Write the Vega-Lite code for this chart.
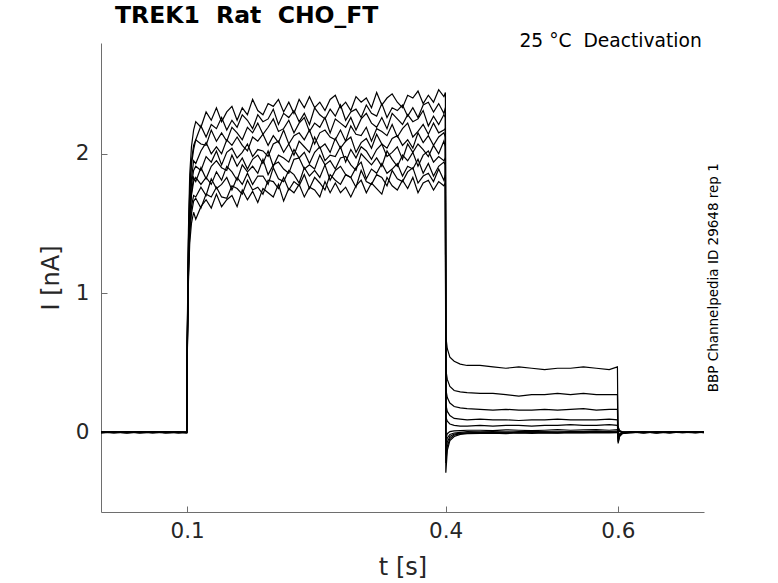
{
  "$schema": "https://vega.github.io/schema/vega-lite/v6.json",
  "width": 603,
  "height": 469,
  "autosize": "none",
  "padding": {"left": 101, "top": 43, "right": 74, "bottom": 71},
  "background": "white",
  "title": {
    "text": "TREK1\u00a0\u00a0Rat\u00a0\u00a0CHO_FT",
    "anchor": "start",
    "frame": "group",
    "dx": 14,
    "offset": 4,
    "fontSize": 23.5,
    "fontWeight": "bold",
    "font": "DejaVu Sans",
    "color": "black"
  },
  "config": {
    "view": {"stroke": null},
    "font": "DejaVu Sans",
    "axis": {
      "grid": false,
      "domainColor": "#6e6e6e",
      "tickColor": "#6e6e6e",
      "labelColor": "#262626",
      "titleColor": "#262626",
      "labelFontSize": 21.5,
      "titleFontSize": 24,
      "titleFontWeight": "normal",
      "tickSize": -6,
      "labelFlush": false,
      "labelOverlap": false
    }
  },
  "datasets": {
    "traces": [
      {"s":1,"t":0,"i":0.002},{"s":1,"t":0.015,"i":-0.003},{"s":1,"t":0.03,"i":0.004},{"s":1,"t":0.045,"i":-0.001},{"s":1,"t":0.06,"i":0.003},{"s":1,"t":0.075,"i":-0.004},{"s":1,"t":0.09,"i":0.002},{"s":1,"t":0.0995,"i":0},
      {"s":1,"t":0.1002,"i":0.75},{"s":1,"t":0.1015,"i":1.45},{"s":1,"t":0.103,"i":1.85},{"s":1,"t":0.105,"i":2.05},{"s":1,"t":0.1075,"i":2.17},
      {"s":1,"t":0.110,"i":2.23},{"s":1,"t":0.116,"i":2.19},{"s":1,"t":0.122,"i":2.30},{"s":1,"t":0.128,"i":2.24},{"s":1,"t":0.134,"i":2.33},{"s":1,"t":0.140,"i":2.23},{"s":1,"t":0.146,"i":2.30},{"s":1,"t":0.152,"i":2.34},{"s":1,"t":0.158,"i":2.24},{"s":1,"t":0.164,"i":2.33},
      {"s":1,"t":0.170,"i":2.28},{"s":1,"t":0.176,"i":2.39},{"s":1,"t":0.182,"i":2.31},{"s":1,"t":0.188,"i":2.28},{"s":1,"t":0.194,"i":2.36},{"s":1,"t":0.200,"i":2.34},{"s":1,"t":0.206,"i":2.39},{"s":1,"t":0.212,"i":2.30},{"s":1,"t":0.218,"i":2.37},{"s":1,"t":0.224,"i":2.29},
      {"s":1,"t":0.230,"i":2.39},{"s":1,"t":0.236,"i":2.33},{"s":1,"t":0.242,"i":2.41},{"s":1,"t":0.248,"i":2.33},{"s":1,"t":0.254,"i":2.37},{"s":1,"t":0.260,"i":2.31},{"s":1,"t":0.266,"i":2.39},{"s":1,"t":0.272,"i":2.42},{"s":1,"t":0.278,"i":2.33},{"s":1,"t":0.284,"i":2.37},
      {"s":1,"t":0.290,"i":2.31},{"s":1,"t":0.296,"i":2.41},{"s":1,"t":0.302,"i":2.37},{"s":1,"t":0.308,"i":2.40},{"s":1,"t":0.314,"i":2.33},{"s":1,"t":0.320,"i":2.44},{"s":1,"t":0.326,"i":2.35},{"s":1,"t":0.332,"i":2.40},{"s":1,"t":0.338,"i":2.43},{"s":1,"t":0.344,"i":2.37},
      {"s":1,"t":0.350,"i":2.33},{"s":1,"t":0.356,"i":2.42},{"s":1,"t":0.362,"i":2.40},{"s":1,"t":0.368,"i":2.45},{"s":1,"t":0.374,"i":2.36},{"s":1,"t":0.380,"i":2.42},{"s":1,"t":0.386,"i":2.37},{"s":1,"t":0.392,"i":2.46},{"s":1,"t":0.398,"i":2.41},{"s":1,"t":0.3998,"i":2.44},
      {"s":1,"t":0.4003,"i":0.69},{"s":1,"t":0.402,"i":0.60},{"s":1,"t":0.405,"i":0.54},{"s":1,"t":0.41,"i":0.51},{"s":1,"t":0.417,"i":0.49},{"s":1,"t":0.425,"i":0.48},{"s":1,"t":0.44,"i":0.48},{"s":1,"t":0.455,"i":0.47},{"s":1,"t":0.47,"i":0.46},{"s":1,"t":0.485,"i":0.47},{"s":1,"t":0.5,"i":0.46},{"s":1,"t":0.515,"i":0.45},{"s":1,"t":0.53,"i":0.46},{"s":1,"t":0.545,"i":0.46},{"s":1,"t":0.56,"i":0.47},{"s":1,"t":0.575,"i":0.46},{"s":1,"t":0.59,"i":0.45},{"s":1,"t":0.5995,"i":0.47},
      {"s":1,"t":0.6003,"i":-0.08},{"s":1,"t":0.602,"i":-0.03},{"s":1,"t":0.605,"i":-0.01},{"s":1,"t":0.615,"i":0},{"s":1,"t":0.63,"i":0.003},{"s":1,"t":0.645,"i":-0.002},{"s":1,"t":0.66,"i":0.004},{"s":1,"t":0.675,"i":-0.003},{"s":1,"t":0.69,"i":0.002},{"s":1,"t":0.7,"i":0},

      {"s":2,"t":0,"i":-0.002},{"s":2,"t":0.015,"i":0.003},{"s":2,"t":0.03,"i":-0.004},{"s":2,"t":0.045,"i":0.002},{"s":2,"t":0.06,"i":0},{"s":2,"t":0.075,"i":0.004},{"s":2,"t":0.09,"i":-0.003},{"s":2,"t":0.0995,"i":0.001},
      {"s":2,"t":0.1002,"i":0.70},{"s":2,"t":0.1015,"i":1.38},{"s":2,"t":0.103,"i":1.75},{"s":2,"t":0.105,"i":1.95},{"s":2,"t":0.1075,"i":2.06},
      {"s":2,"t":0.110,"i":2.10},{"s":2,"t":0.116,"i":2.20},{"s":2,"t":0.122,"i":2.12},{"s":2,"t":0.128,"i":2.21},{"s":2,"t":0.134,"i":2.18},{"s":2,"t":0.140,"i":2.26},{"s":2,"t":0.146,"i":2.17},{"s":2,"t":0.152,"i":2.24},{"s":2,"t":0.158,"i":2.19},{"s":2,"t":0.164,"i":2.28},
      {"s":2,"t":0.170,"i":2.24},{"s":2,"t":0.176,"i":2.18},{"s":2,"t":0.182,"i":2.28},{"s":2,"t":0.188,"i":2.23},{"s":2,"t":0.194,"i":2.25},{"s":2,"t":0.200,"i":2.32},{"s":2,"t":0.206,"i":2.21},{"s":2,"t":0.212,"i":2.29},{"s":2,"t":0.218,"i":2.26},{"s":2,"t":0.224,"i":2.31},
      {"s":2,"t":0.230,"i":2.23},{"s":2,"t":0.236,"i":2.29},{"s":2,"t":0.242,"i":2.21},{"s":2,"t":0.248,"i":2.33},{"s":2,"t":0.254,"i":2.28},{"s":2,"t":0.260,"i":2.25},{"s":2,"t":0.266,"i":2.32},{"s":2,"t":0.272,"i":2.27},{"s":2,"t":0.278,"i":2.35},{"s":2,"t":0.284,"i":2.24},
      {"s":2,"t":0.290,"i":2.30},{"s":2,"t":0.296,"i":2.32},{"s":2,"t":0.302,"i":2.26},{"s":2,"t":0.308,"i":2.35},{"s":2,"t":0.314,"i":2.29},{"s":2,"t":0.320,"i":2.27},{"s":2,"t":0.326,"i":2.36},{"s":2,"t":0.332,"i":2.26},{"s":2,"t":0.338,"i":2.33},{"s":2,"t":0.344,"i":2.31},
      {"s":2,"t":0.350,"i":2.35},{"s":2,"t":0.356,"i":2.27},{"s":2,"t":0.362,"i":2.33},{"s":2,"t":0.368,"i":2.26},{"s":2,"t":0.374,"i":2.35},{"s":2,"t":0.380,"i":2.37},{"s":2,"t":0.386,"i":2.30},{"s":2,"t":0.392,"i":2.36},{"s":2,"t":0.398,"i":2.29},{"s":2,"t":0.3998,"i":2.33},
      {"s":2,"t":0.4003,"i":0.45},{"s":2,"t":0.402,"i":0.38},{"s":2,"t":0.405,"i":0.33},{"s":2,"t":0.41,"i":0.30},{"s":2,"t":0.417,"i":0.29},{"s":2,"t":0.425,"i":0.285},{"s":2,"t":0.44,"i":0.28},{"s":2,"t":0.455,"i":0.28},{"s":2,"t":0.47,"i":0.27},{"s":2,"t":0.485,"i":0.26},{"s":2,"t":0.5,"i":0.27},{"s":2,"t":0.515,"i":0.27},{"s":2,"t":0.53,"i":0.28},{"s":2,"t":0.545,"i":0.27},{"s":2,"t":0.56,"i":0.28},{"s":2,"t":0.575,"i":0.27},{"s":2,"t":0.59,"i":0.27},{"s":2,"t":0.5995,"i":0.27},
      {"s":2,"t":0.6003,"i":-0.07},{"s":2,"t":0.602,"i":-0.025},{"s":2,"t":0.605,"i":-0.008},{"s":2,"t":0.615,"i":0.002},{"s":2,"t":0.63,"i":-0.003},{"s":2,"t":0.645,"i":0.004},{"s":2,"t":0.66,"i":-0.002},{"s":2,"t":0.675,"i":0.003},{"s":2,"t":0.69,"i":-0.001},{"s":2,"t":0.7,"i":0.002},

      {"s":3,"t":0,"i":0.003},{"s":3,"t":0.015,"i":0},{"s":3,"t":0.03,"i":-0.002},{"s":3,"t":0.045,"i":0.004},{"s":3,"t":0.06,"i":-0.003},{"s":3,"t":0.075,"i":0.001},{"s":3,"t":0.09,"i":0.003},{"s":3,"t":0.0995,"i":-0.002},
      {"s":3,"t":0.1002,"i":0.68},{"s":3,"t":0.1015,"i":1.35},{"s":3,"t":0.103,"i":1.72},{"s":3,"t":0.105,"i":1.92},{"s":3,"t":0.1075,"i":2.03},
      {"s":3,"t":0.110,"i":2.10},{"s":3,"t":0.116,"i":2.07},{"s":3,"t":0.122,"i":2.06},{"s":3,"t":0.128,"i":2.17},{"s":3,"t":0.134,"i":2.09},{"s":3,"t":0.140,"i":2.15},{"s":3,"t":0.146,"i":2.09},{"s":3,"t":0.152,"i":2.19},{"s":3,"t":0.158,"i":2.15},{"s":3,"t":0.164,"i":2.10},
      {"s":3,"t":0.170,"i":2.19},{"s":3,"t":0.176,"i":2.15},{"s":3,"t":0.182,"i":2.22},{"s":3,"t":0.188,"i":2.14},{"s":3,"t":0.194,"i":2.19},{"s":3,"t":0.200,"i":2.25},{"s":3,"t":0.206,"i":2.16},{"s":3,"t":0.212,"i":2.18},{"s":3,"t":0.218,"i":2.24},{"s":3,"t":0.224,"i":2.15},
      {"s":3,"t":0.230,"i":2.22},{"s":3,"t":0.236,"i":2.26},{"s":3,"t":0.242,"i":2.16},{"s":3,"t":0.248,"i":2.22},{"s":3,"t":0.254,"i":2.19},{"s":3,"t":0.260,"i":2.26},{"s":3,"t":0.266,"i":2.15},{"s":3,"t":0.272,"i":2.25},{"s":3,"t":0.278,"i":2.22},{"s":3,"t":0.284,"i":2.19},
      {"s":3,"t":0.290,"i":2.26},{"s":3,"t":0.296,"i":2.17},{"s":3,"t":0.302,"i":2.25},{"s":3,"t":0.308,"i":2.29},{"s":3,"t":0.314,"i":2.22},{"s":3,"t":0.320,"i":2.19},{"s":3,"t":0.326,"i":2.26},{"s":3,"t":0.332,"i":2.18},{"s":3,"t":0.338,"i":2.29},{"s":3,"t":0.344,"i":2.25},
      {"s":3,"t":0.350,"i":2.21},{"s":3,"t":0.356,"i":2.28},{"s":3,"t":0.362,"i":2.23},{"s":3,"t":0.368,"i":2.25},{"s":3,"t":0.374,"i":2.31},{"s":3,"t":0.380,"i":2.20},{"s":3,"t":0.386,"i":2.27},{"s":3,"t":0.392,"i":2.21},{"s":3,"t":0.398,"i":2.28},{"s":3,"t":0.3998,"i":2.26},
      {"s":3,"t":0.4003,"i":0.31},{"s":3,"t":0.402,"i":0.25},{"s":3,"t":0.405,"i":0.21},{"s":3,"t":0.41,"i":0.185},{"s":3,"t":0.417,"i":0.175},{"s":3,"t":0.425,"i":0.17},{"s":3,"t":0.44,"i":0.165},{"s":3,"t":0.455,"i":0.16},{"s":3,"t":0.47,"i":0.165},{"s":3,"t":0.485,"i":0.16},{"s":3,"t":0.5,"i":0.16},{"s":3,"t":0.515,"i":0.165},{"s":3,"t":0.53,"i":0.16},{"s":3,"t":0.545,"i":0.165},{"s":3,"t":0.56,"i":0.17},{"s":3,"t":0.575,"i":0.16},{"s":3,"t":0.59,"i":0.165},{"s":3,"t":0.5995,"i":0.165},
      {"s":3,"t":0.6003,"i":-0.06},{"s":3,"t":0.602,"i":-0.02},{"s":3,"t":0.605,"i":-0.006},{"s":3,"t":0.615,"i":-0.002},{"s":3,"t":0.63,"i":0.003},{"s":3,"t":0.645,"i":-0.004},{"s":3,"t":0.66,"i":0.002},{"s":3,"t":0.675,"i":0},{"s":3,"t":0.69,"i":0.004},{"s":3,"t":0.7,"i":-0.002},

      {"s":4,"t":0,"i":-0.004},{"s":4,"t":0.015,"i":0.002},{"s":4,"t":0.03,"i":0.001},{"s":4,"t":0.045,"i":-0.003},{"s":4,"t":0.06,"i":0.004},{"s":4,"t":0.075,"i":-0.002},{"s":4,"t":0.09,"i":0},{"s":4,"t":0.0995,"i":0.003},
      {"s":4,"t":0.1002,"i":0.65},{"s":4,"t":0.1015,"i":1.30},{"s":4,"t":0.103,"i":1.65},{"s":4,"t":0.105,"i":1.82},{"s":4,"t":0.1075,"i":1.95},
      {"s":4,"t":0.110,"i":1.93},{"s":4,"t":0.116,"i":2.02},{"s":4,"t":0.122,"i":2.08},{"s":4,"t":0.128,"i":2.00},{"s":4,"t":0.134,"i":2.05},{"s":4,"t":0.140,"i":2.00},{"s":4,"t":0.146,"i":2.10},{"s":4,"t":0.152,"i":2.06},{"s":4,"t":0.158,"i":2.12},{"s":4,"t":0.164,"i":2.06},
      {"s":4,"t":0.170,"i":2.02},{"s":4,"t":0.176,"i":2.12},{"s":4,"t":0.182,"i":2.09},{"s":4,"t":0.188,"i":2.14},{"s":4,"t":0.194,"i":2.06},{"s":4,"t":0.200,"i":2.13},{"s":4,"t":0.206,"i":2.08},{"s":4,"t":0.212,"i":2.17},{"s":4,"t":0.218,"i":2.07},{"s":4,"t":0.224,"i":2.13},
      {"s":4,"t":0.230,"i":2.15},{"s":4,"t":0.236,"i":2.10},{"s":4,"t":0.242,"i":2.17},{"s":4,"t":0.248,"i":2.07},{"s":4,"t":0.254,"i":2.15},{"s":4,"t":0.260,"i":2.17},{"s":4,"t":0.266,"i":2.12},{"s":4,"t":0.272,"i":2.10},{"s":4,"t":0.278,"i":2.17},{"s":4,"t":0.284,"i":2.09},
      {"s":4,"t":0.290,"i":2.20},{"s":4,"t":0.296,"i":2.14},{"s":4,"t":0.302,"i":2.13},{"s":4,"t":0.308,"i":2.19},{"s":4,"t":0.314,"i":2.09},{"s":4,"t":0.320,"i":2.18},{"s":4,"t":0.326,"i":2.16},{"s":4,"t":0.332,"i":2.13},{"s":4,"t":0.338,"i":2.21},{"s":4,"t":0.344,"i":2.12},
      {"s":4,"t":0.350,"i":2.18},{"s":4,"t":0.356,"i":2.22},{"s":4,"t":0.362,"i":2.12},{"s":4,"t":0.368,"i":2.16},{"s":4,"t":0.374,"i":2.21},{"s":4,"t":0.380,"i":2.14},{"s":4,"t":0.386,"i":2.22},{"s":4,"t":0.392,"i":2.15},{"s":4,"t":0.398,"i":2.17},{"s":4,"t":0.3998,"i":2.18},
      {"s":4,"t":0.4003,"i":0.20},{"s":4,"t":0.402,"i":0.15},{"s":4,"t":0.405,"i":0.12},{"s":4,"t":0.41,"i":0.10},{"s":4,"t":0.417,"i":0.095},{"s":4,"t":0.425,"i":0.09},{"s":4,"t":0.44,"i":0.095},{"s":4,"t":0.455,"i":0.09},{"s":4,"t":0.47,"i":0.09},{"s":4,"t":0.485,"i":0.085},{"s":4,"t":0.5,"i":0.09},{"s":4,"t":0.515,"i":0.09},{"s":4,"t":0.53,"i":0.095},{"s":4,"t":0.545,"i":0.09},{"s":4,"t":0.56,"i":0.09},{"s":4,"t":0.575,"i":0.09},{"s":4,"t":0.59,"i":0.095},{"s":4,"t":0.5995,"i":0.09},
      {"s":4,"t":0.6003,"i":-0.05},{"s":4,"t":0.602,"i":-0.018},{"s":4,"t":0.605,"i":-0.005},{"s":4,"t":0.615,"i":0.003},{"s":4,"t":0.63,"i":-0.002},{"s":4,"t":0.645,"i":0.002},{"s":4,"t":0.66,"i":-0.004},{"s":4,"t":0.675,"i":0.003},{"s":4,"t":0.69,"i":0},{"s":4,"t":0.7,"i":0.003},

      {"s":5,"t":0,"i":0.001},{"s":5,"t":0.015,"i":-0.004},{"s":5,"t":0.03,"i":0.003},{"s":5,"t":0.045,"i":0},{"s":5,"t":0.06,"i":-0.002},{"s":5,"t":0.075,"i":0.004},{"s":5,"t":0.09,"i":-0.004},{"s":5,"t":0.0995,"i":0.002},
      {"s":5,"t":0.1002,"i":0.63},{"s":5,"t":0.1015,"i":1.27},{"s":5,"t":0.103,"i":1.60},{"s":5,"t":0.105,"i":1.78},{"s":5,"t":0.1075,"i":1.88},
      {"s":5,"t":0.110,"i":1.91},{"s":5,"t":0.116,"i":1.88},{"s":5,"t":0.122,"i":1.98},{"s":5,"t":0.128,"i":1.94},{"s":5,"t":0.134,"i":2.02},{"s":5,"t":0.140,"i":1.92},{"s":5,"t":0.146,"i":2.01},{"s":5,"t":0.152,"i":2.04},{"s":5,"t":0.158,"i":1.97},{"s":5,"t":0.164,"i":2.01},
      {"s":5,"t":0.170,"i":2.07},{"s":5,"t":0.176,"i":1.98},{"s":5,"t":0.182,"i":2.03},{"s":5,"t":0.188,"i":2.02},{"s":5,"t":0.194,"i":1.98},{"s":5,"t":0.200,"i":2.07},{"s":5,"t":0.206,"i":2.09},{"s":5,"t":0.212,"i":2.01},{"s":5,"t":0.218,"i":2.07},{"s":5,"t":0.224,"i":1.99},
      {"s":5,"t":0.230,"i":2.09},{"s":5,"t":0.236,"i":2.05},{"s":5,"t":0.242,"i":2.01},{"s":5,"t":0.248,"i":2.12},{"s":5,"t":0.254,"i":2.04},{"s":5,"t":0.260,"i":2.07},{"s":5,"t":0.266,"i":2.01},{"s":5,"t":0.272,"i":2.11},{"s":5,"t":0.278,"i":2.04},{"s":5,"t":0.284,"i":2.09},
      {"s":5,"t":0.290,"i":2.12},{"s":5,"t":0.296,"i":2.01},{"s":5,"t":0.302,"i":2.08},{"s":5,"t":0.308,"i":2.11},{"s":5,"t":0.314,"i":2.04},{"s":5,"t":0.320,"i":2.14},{"s":5,"t":0.326,"i":2.07},{"s":5,"t":0.332,"i":2.04},{"s":5,"t":0.338,"i":2.11},{"s":5,"t":0.344,"i":2.13},
      {"s":5,"t":0.350,"i":2.06},{"s":5,"t":0.356,"i":2.10},{"s":5,"t":0.362,"i":2.04},{"s":5,"t":0.368,"i":2.15},{"s":5,"t":0.374,"i":2.08},{"s":5,"t":0.380,"i":2.13},{"s":5,"t":0.386,"i":2.06},{"s":5,"t":0.392,"i":2.12},{"s":5,"t":0.398,"i":2.15},{"s":5,"t":0.3998,"i":2.12},
      {"s":5,"t":0.4003,"i":0.11},{"s":5,"t":0.402,"i":0.08},{"s":5,"t":0.405,"i":0.06},{"s":5,"t":0.41,"i":0.05},{"s":5,"t":0.417,"i":0.045},{"s":5,"t":0.425,"i":0.045},{"s":5,"t":0.44,"i":0.05},{"s":5,"t":0.455,"i":0.045},{"s":5,"t":0.47,"i":0.05},{"s":5,"t":0.485,"i":0.05},{"s":5,"t":0.5,"i":0.045},{"s":5,"t":0.515,"i":0.05},{"s":5,"t":0.53,"i":0.05},{"s":5,"t":0.545,"i":0.055},{"s":5,"t":0.56,"i":0.05},{"s":5,"t":0.575,"i":0.05},{"s":5,"t":0.59,"i":0.055},{"s":5,"t":0.5995,"i":0.05},
      {"s":5,"t":0.6003,"i":-0.04},{"s":5,"t":0.602,"i":-0.015},{"s":5,"t":0.605,"i":-0.004},{"s":5,"t":0.615,"i":0},{"s":5,"t":0.63,"i":0.004},{"s":5,"t":0.645,"i":-0.003},{"s":5,"t":0.66,"i":0.001},{"s":5,"t":0.675,"i":-0.002},{"s":5,"t":0.69,"i":0.003},{"s":5,"t":0.7,"i":-0.001},

      {"s":6,"t":0,"i":0},{"s":6,"t":0.015,"i":0.004},{"s":6,"t":0.03,"i":-0.003},{"s":6,"t":0.045,"i":0.003},{"s":6,"t":0.06,"i":-0.004},{"s":6,"t":0.075,"i":0.002},{"s":6,"t":0.09,"i":0.001},{"s":6,"t":0.0995,"i":-0.003},
      {"s":6,"t":0.1002,"i":0.60},{"s":6,"t":0.1015,"i":1.22},{"s":6,"t":0.103,"i":1.55},{"s":6,"t":0.105,"i":1.72},{"s":6,"t":0.1075,"i":1.83},
      {"s":6,"t":0.110,"i":1.80},{"s":6,"t":0.116,"i":1.90},{"s":6,"t":0.122,"i":1.82},{"s":6,"t":0.128,"i":1.91},{"s":6,"t":0.134,"i":1.95},{"s":6,"t":0.140,"i":1.90},{"s":6,"t":0.146,"i":1.88},{"s":6,"t":0.152,"i":1.99},{"s":6,"t":0.158,"i":1.91},{"s":6,"t":0.164,"i":1.97},
      {"s":6,"t":0.170,"i":1.89},{"s":6,"t":0.176,"i":1.96},{"s":6,"t":0.182,"i":1.99},{"s":6,"t":0.188,"i":1.93},{"s":6,"t":0.194,"i":2.02},{"s":6,"t":0.200,"i":1.91},{"s":6,"t":0.206,"i":1.99},{"s":6,"t":0.212,"i":1.97},{"s":6,"t":0.218,"i":1.94},{"s":6,"t":0.224,"i":2.03},
      {"s":6,"t":0.230,"i":1.97},{"s":6,"t":0.236,"i":2.01},{"s":6,"t":0.242,"i":1.93},{"s":6,"t":0.248,"i":2.01},{"s":6,"t":0.254,"i":2.05},{"s":6,"t":0.260,"i":1.95},{"s":6,"t":0.266,"i":1.99},{"s":6,"t":0.272,"i":1.98},{"s":6,"t":0.278,"i":2.05},{"s":6,"t":0.284,"i":1.94},
      {"s":6,"t":0.290,"i":2.03},{"s":6,"t":0.296,"i":1.97},{"s":6,"t":0.302,"i":2.05},{"s":6,"t":0.308,"i":2.02},{"s":6,"t":0.314,"i":1.96},{"s":6,"t":0.320,"i":2.03},{"s":6,"t":0.326,"i":2.07},{"s":6,"t":0.332,"i":1.98},{"s":6,"t":0.338,"i":2.01},{"s":6,"t":0.344,"i":2.05},
      {"s":6,"t":0.350,"i":1.96},{"s":6,"t":0.356,"i":2.07},{"s":6,"t":0.362,"i":2.01},{"s":6,"t":0.368,"i":2.07},{"s":6,"t":0.374,"i":2.03},{"s":6,"t":0.380,"i":1.98},{"s":6,"t":0.386,"i":2.06},{"s":6,"t":0.392,"i":2.00},{"s":6,"t":0.398,"i":2.09},{"s":6,"t":0.3998,"i":2.05},
      {"s":6,"t":0.4003,"i":-0.05},{"s":6,"t":0.402,"i":-0.01},{"s":6,"t":0.405,"i":0.005},{"s":6,"t":0.41,"i":0.01},{"s":6,"t":0.417,"i":0.012},{"s":6,"t":0.425,"i":0.015},{"s":6,"t":0.44,"i":0.015},{"s":6,"t":0.455,"i":0.012},{"s":6,"t":0.47,"i":0.018},{"s":6,"t":0.485,"i":0.015},{"s":6,"t":0.5,"i":0.012},{"s":6,"t":0.515,"i":0.015},{"s":6,"t":0.53,"i":0.02},{"s":6,"t":0.545,"i":0.015},{"s":6,"t":0.56,"i":0.018},{"s":6,"t":0.575,"i":0.02},{"s":6,"t":0.59,"i":0.015},{"s":6,"t":0.5995,"i":0.02},
      {"s":6,"t":0.6003,"i":-0.03},{"s":6,"t":0.602,"i":-0.01},{"s":6,"t":0.605,"i":-0.003},{"s":6,"t":0.615,"i":0.002},{"s":6,"t":0.63,"i":-0.004},{"s":6,"t":0.645,"i":0.003},{"s":6,"t":0.66,"i":0},{"s":6,"t":0.675,"i":0.004},{"s":6,"t":0.69,"i":-0.003},{"s":6,"t":0.7,"i":0.002},

      {"s":7,"t":0,"i":-0.003},{"s":7,"t":0.015,"i":0.001},{"s":7,"t":0.03,"i":0.004},{"s":7,"t":0.045,"i":-0.004},{"s":7,"t":0.06,"i":0.002},{"s":7,"t":0.075,"i":0},{"s":7,"t":0.09,"i":0.004},{"s":7,"t":0.0995,"i":-0.001},
      {"s":7,"t":0.1002,"i":0.62},{"s":7,"t":0.1015,"i":1.20},{"s":7,"t":0.103,"i":1.52},{"s":7,"t":0.105,"i":1.70},{"s":7,"t":0.1075,"i":1.80},
      {"s":7,"t":0.110,"i":1.83},{"s":7,"t":0.116,"i":1.78},{"s":7,"t":0.122,"i":1.83},{"s":7,"t":0.128,"i":1.78},{"s":7,"t":0.134,"i":1.87},{"s":7,"t":0.140,"i":1.81},{"s":7,"t":0.146,"i":1.91},{"s":7,"t":0.152,"i":1.87},{"s":7,"t":0.158,"i":1.81},{"s":7,"t":0.164,"i":1.92},
      {"s":7,"t":0.170,"i":1.87},{"s":7,"t":0.176,"i":1.91},{"s":7,"t":0.182,"i":1.86},{"s":7,"t":0.188,"i":1.96},{"s":7,"t":0.194,"i":1.85},{"s":7,"t":0.200,"i":1.92},{"s":7,"t":0.206,"i":1.94},{"s":7,"t":0.212,"i":1.89},{"s":7,"t":0.218,"i":1.86},{"s":7,"t":0.224,"i":1.96},
      {"s":7,"t":0.230,"i":1.97},{"s":7,"t":0.236,"i":1.89},{"s":7,"t":0.242,"i":1.92},{"s":7,"t":0.248,"i":1.89},{"s":7,"t":0.254,"i":1.99},{"s":7,"t":0.260,"i":1.92},{"s":7,"t":0.266,"i":1.95},{"s":7,"t":0.272,"i":1.89},{"s":7,"t":0.278,"i":1.97},{"s":7,"t":0.284,"i":1.98},
      {"s":7,"t":0.290,"i":1.92},{"s":7,"t":0.296,"i":1.88},{"s":7,"t":0.302,"i":2.00},{"s":7,"t":0.308,"i":1.96},{"s":7,"t":0.314,"i":1.92},{"s":7,"t":0.320,"i":1.97},{"s":7,"t":0.326,"i":1.91},{"s":7,"t":0.332,"i":2.02},{"s":7,"t":0.338,"i":1.96},{"s":7,"t":0.344,"i":1.91},
      {"s":7,"t":0.350,"i":1.99},{"s":7,"t":0.356,"i":1.95},{"s":7,"t":0.362,"i":2.01},{"s":7,"t":0.368,"i":1.91},{"s":7,"t":0.374,"i":1.99},{"s":7,"t":0.380,"i":2.02},{"s":7,"t":0.386,"i":1.94},{"s":7,"t":0.392,"i":1.98},{"s":7,"t":0.398,"i":1.95},{"s":7,"t":0.3998,"i":1.97},
      {"s":7,"t":0.4003,"i":-0.10},{"s":7,"t":0.402,"i":-0.04},{"s":7,"t":0.405,"i":-0.015},{"s":7,"t":0.41,"i":-0.005},{"s":7,"t":0.417,"i":0},{"s":7,"t":0.425,"i":0.005},{"s":7,"t":0.44,"i":0.003},{"s":7,"t":0.455,"i":0.006},{"s":7,"t":0.47,"i":0.002},{"s":7,"t":0.485,"i":0.005},{"s":7,"t":0.5,"i":0.007},{"s":7,"t":0.515,"i":0.004},{"s":7,"t":0.53,"i":0.003},{"s":7,"t":0.545,"i":0.006},{"s":7,"t":0.56,"i":0.005},{"s":7,"t":0.575,"i":0.008},{"s":7,"t":0.59,"i":0.006},{"s":7,"t":0.5995,"i":0.008},
      {"s":7,"t":0.6003,"i":0.02},{"s":7,"t":0.602,"i":0.005},{"s":7,"t":0.605,"i":0},{"s":7,"t":0.615,"i":-0.003},{"s":7,"t":0.63,"i":0.002},{"s":7,"t":0.645,"i":-0.002},{"s":7,"t":0.66,"i":0.004},{"s":7,"t":0.675,"i":-0.001},{"s":7,"t":0.69,"i":0.002},{"s":7,"t":0.7,"i":0},

      {"s":8,"t":0,"i":0.004},{"s":8,"t":0.015,"i":-0.002},{"s":8,"t":0.03,"i":0},{"s":8,"t":0.045,"i":0.003},{"s":8,"t":0.06,"i":-0.001},{"s":8,"t":0.075,"i":-0.003},{"s":8,"t":0.09,"i":0.002},{"s":8,"t":0.0995,"i":0.004},
      {"s":8,"t":0.1002,"i":0.58},{"s":8,"t":0.1015,"i":1.15},{"s":8,"t":0.103,"i":1.46},{"s":8,"t":0.105,"i":1.62},{"s":8,"t":0.1075,"i":1.70},
      {"s":8,"t":0.110,"i":1.69},{"s":8,"t":0.116,"i":1.76},{"s":8,"t":0.122,"i":1.70},{"s":8,"t":0.128,"i":1.82},{"s":8,"t":0.134,"i":1.75},{"s":8,"t":0.140,"i":1.78},{"s":8,"t":0.146,"i":1.83},{"s":8,"t":0.152,"i":1.74},{"s":8,"t":0.158,"i":1.83},{"s":8,"t":0.164,"i":1.78},
      {"s":8,"t":0.170,"i":1.86},{"s":8,"t":0.176,"i":1.78},{"s":8,"t":0.182,"i":1.84},{"s":8,"t":0.188,"i":1.84},{"s":8,"t":0.194,"i":1.78},{"s":8,"t":0.200,"i":1.90},{"s":8,"t":0.206,"i":1.82},{"s":8,"t":0.212,"i":1.80},{"s":8,"t":0.218,"i":1.88},{"s":8,"t":0.224,"i":1.85},
      {"s":8,"t":0.230,"i":1.79},{"s":8,"t":0.236,"i":1.90},{"s":8,"t":0.242,"i":1.84},{"s":8,"t":0.248,"i":1.88},{"s":8,"t":0.254,"i":1.83},{"s":8,"t":0.260,"i":1.92},{"s":8,"t":0.266,"i":1.81},{"s":8,"t":0.272,"i":1.88},{"s":8,"t":0.278,"i":1.91},{"s":8,"t":0.284,"i":1.85},
      {"s":8,"t":0.290,"i":1.83},{"s":8,"t":0.296,"i":1.90},{"s":8,"t":0.302,"i":1.94},{"s":8,"t":0.308,"i":1.82},{"s":8,"t":0.314,"i":1.89},{"s":8,"t":0.320,"i":1.86},{"s":8,"t":0.326,"i":1.93},{"s":8,"t":0.332,"i":1.86},{"s":8,"t":0.338,"i":1.89},{"s":8,"t":0.344,"i":1.93},
      {"s":8,"t":0.350,"i":1.84},{"s":8,"t":0.356,"i":1.91},{"s":8,"t":0.362,"i":1.89},{"s":8,"t":0.368,"i":1.96},{"s":8,"t":0.374,"i":1.86},{"s":8,"t":0.380,"i":1.93},{"s":8,"t":0.386,"i":1.84},{"s":8,"t":0.392,"i":1.91},{"s":8,"t":0.398,"i":1.94},{"s":8,"t":0.3998,"i":1.92},
      {"s":8,"t":0.4003,"i":-0.16},{"s":8,"t":0.402,"i":-0.07},{"s":8,"t":0.405,"i":-0.03},{"s":8,"t":0.41,"i":-0.012},{"s":8,"t":0.417,"i":-0.006},{"s":8,"t":0.425,"i":-0.003},{"s":8,"t":0.44,"i":0},{"s":8,"t":0.455,"i":-0.002},{"s":8,"t":0.47,"i":0.002},{"s":8,"t":0.485,"i":-0.003},{"s":8,"t":0.5,"i":0},{"s":8,"t":0.515,"i":0.003},{"s":8,"t":0.53,"i":-0.001},{"s":8,"t":0.545,"i":0.002},{"s":8,"t":0.56,"i":0},{"s":8,"t":0.575,"i":0.004},{"s":8,"t":0.59,"i":0.002},{"s":8,"t":0.5995,"i":0.003},
      {"s":8,"t":0.6003,"i":0.03},{"s":8,"t":0.602,"i":0.008},{"s":8,"t":0.605,"i":0.002},{"s":8,"t":0.615,"i":0.001},{"s":8,"t":0.63,"i":-0.003},{"s":8,"t":0.645,"i":0.003},{"s":8,"t":0.66,"i":-0.002},{"s":8,"t":0.675,"i":0.002},{"s":8,"t":0.69,"i":-0.004},{"s":8,"t":0.7,"i":0.001},

      {"s":9,"t":0,"i":-0.001},{"s":9,"t":0.015,"i":0.003},{"s":9,"t":0.03,"i":-0.004},{"s":9,"t":0.045,"i":0.001},{"s":9,"t":0.06,"i":0.004},{"s":9,"t":0.075,"i":-0.002},{"s":9,"t":0.09,"i":-0.003},{"s":9,"t":0.0995,"i":0},
      {"s":9,"t":0.1002,"i":0.56},{"s":9,"t":0.1015,"i":1.12},{"s":9,"t":0.103,"i":1.42},{"s":9,"t":0.105,"i":1.57},{"s":9,"t":0.1075,"i":1.66},
      {"s":9,"t":0.110,"i":1.68},{"s":9,"t":0.116,"i":1.61},{"s":9,"t":0.122,"i":1.71},{"s":9,"t":0.128,"i":1.69},{"s":9,"t":0.134,"i":1.76},{"s":9,"t":0.140,"i":1.69},{"s":9,"t":0.146,"i":1.68},{"s":9,"t":0.152,"i":1.77},{"s":9,"t":0.158,"i":1.75},{"s":9,"t":0.164,"i":1.71},
      {"s":9,"t":0.170,"i":1.81},{"s":9,"t":0.176,"i":1.74},{"s":9,"t":0.182,"i":1.76},{"s":9,"t":0.188,"i":1.71},{"s":9,"t":0.194,"i":1.81},{"s":9,"t":0.200,"i":1.80},{"s":9,"t":0.206,"i":1.75},{"s":9,"t":0.212,"i":1.83},{"s":9,"t":0.218,"i":1.74},{"s":9,"t":0.224,"i":1.80},
      {"s":9,"t":0.230,"i":1.77},{"s":9,"t":0.236,"i":1.85},{"s":9,"t":0.242,"i":1.75},{"s":9,"t":0.248,"i":1.83},{"s":9,"t":0.254,"i":1.79},{"s":9,"t":0.260,"i":1.74},{"s":9,"t":0.266,"i":1.85},{"s":9,"t":0.272,"i":1.81},{"s":9,"t":0.278,"i":1.78},{"s":9,"t":0.284,"i":1.85},
      {"s":9,"t":0.290,"i":1.83},{"s":9,"t":0.296,"i":1.76},{"s":9,"t":0.302,"i":1.88},{"s":9,"t":0.308,"i":1.80},{"s":9,"t":0.314,"i":1.78},{"s":9,"t":0.320,"i":1.85},{"s":9,"t":0.326,"i":1.83},{"s":9,"t":0.332,"i":1.77},{"s":9,"t":0.338,"i":1.88},{"s":9,"t":0.344,"i":1.82},
      {"s":9,"t":0.350,"i":1.80},{"s":9,"t":0.356,"i":1.87},{"s":9,"t":0.362,"i":1.90},{"s":9,"t":0.368,"i":1.79},{"s":9,"t":0.374,"i":1.84},{"s":9,"t":0.380,"i":1.86},{"s":9,"t":0.386,"i":1.80},{"s":9,"t":0.392,"i":1.89},{"s":9,"t":0.398,"i":1.81},{"s":9,"t":0.3998,"i":1.85},
      {"s":9,"t":0.4003,"i":-0.22},{"s":9,"t":0.402,"i":-0.10},{"s":9,"t":0.405,"i":-0.045},{"s":9,"t":0.41,"i":-0.02},{"s":9,"t":0.417,"i":-0.01},{"s":9,"t":0.425,"i":-0.006},{"s":9,"t":0.44,"i":-0.004},{"s":9,"t":0.455,"i":-0.002},{"s":9,"t":0.47,"i":-0.005},{"s":9,"t":0.485,"i":0},{"s":9,"t":0.5,"i":-0.003},{"s":9,"t":0.515,"i":-0.001},{"s":9,"t":0.53,"i":-0.004},{"s":9,"t":0.545,"i":0},{"s":9,"t":0.56,"i":-0.002},{"s":9,"t":0.575,"i":0.001},{"s":9,"t":0.59,"i":-0.001},{"s":9,"t":0.5995,"i":0},
      {"s":9,"t":0.6003,"i":0.035},{"s":9,"t":0.602,"i":0.01},{"s":9,"t":0.605,"i":0.003},{"s":9,"t":0.615,"i":-0.002},{"s":9,"t":0.63,"i":0.001},{"s":9,"t":0.645,"i":-0.004},{"s":9,"t":0.66,"i":0.003},{"s":9,"t":0.675,"i":0},{"s":9,"t":0.69,"i":0.002},{"s":9,"t":0.7,"i":-0.002},

      {"s":10,"t":0,"i":0.002},{"s":10,"t":0.015,"i":-0.001},{"s":10,"t":0.03,"i":0.003},{"s":10,"t":0.045,"i":-0.004},{"s":10,"t":0.06,"i":0.001},{"s":10,"t":0.075,"i":0.003},{"s":10,"t":0.09,"i":-0.002},{"s":10,"t":0.0995,"i":-0.004},
      {"s":10,"t":0.1002,"i":0.55},{"s":10,"t":0.1015,"i":1.08},{"s":10,"t":0.103,"i":1.36},{"s":10,"t":0.105,"i":1.50},{"s":10,"t":0.1075,"i":1.58},
      {"s":10,"t":0.110,"i":1.53},{"s":10,"t":0.116,"i":1.62},{"s":10,"t":0.122,"i":1.67},{"s":10,"t":0.128,"i":1.61},{"s":10,"t":0.134,"i":1.71},{"s":10,"t":0.140,"i":1.62},{"s":10,"t":0.146,"i":1.67},{"s":10,"t":0.152,"i":1.70},{"s":10,"t":0.158,"i":1.62},{"s":10,"t":0.164,"i":1.74},
      {"s":10,"t":0.170,"i":1.67},{"s":10,"t":0.176,"i":1.73},{"s":10,"t":0.182,"i":1.65},{"s":10,"t":0.188,"i":1.75},{"s":10,"t":0.194,"i":1.72},{"s":10,"t":0.200,"i":1.69},{"s":10,"t":0.206,"i":1.78},{"s":10,"t":0.212,"i":1.66},{"s":10,"t":0.218,"i":1.75},{"s":10,"t":0.224,"i":1.72},
      {"s":10,"t":0.230,"i":1.78},{"s":10,"t":0.236,"i":1.69},{"s":10,"t":0.242,"i":1.76},{"s":10,"t":0.248,"i":1.74},{"s":10,"t":0.254,"i":1.69},{"s":10,"t":0.260,"i":1.80},{"s":10,"t":0.266,"i":1.72},{"s":10,"t":0.272,"i":1.79},{"s":10,"t":0.278,"i":1.72},{"s":10,"t":0.284,"i":1.76},
      {"s":10,"t":0.290,"i":1.69},{"s":10,"t":0.296,"i":1.77},{"s":10,"t":0.302,"i":1.81},{"s":10,"t":0.308,"i":1.72},{"s":10,"t":0.314,"i":1.79},{"s":10,"t":0.320,"i":1.75},{"s":10,"t":0.326,"i":1.71},{"s":10,"t":0.332,"i":1.83},{"s":10,"t":0.338,"i":1.77},{"s":10,"t":0.344,"i":1.74},
      {"s":10,"t":0.350,"i":1.81},{"s":10,"t":0.356,"i":1.75},{"s":10,"t":0.362,"i":1.83},{"s":10,"t":0.368,"i":1.72},{"s":10,"t":0.374,"i":1.79},{"s":10,"t":0.380,"i":1.81},{"s":10,"t":0.386,"i":1.74},{"s":10,"t":0.392,"i":1.80},{"s":10,"t":0.398,"i":1.77},{"s":10,"t":0.3998,"i":1.79},
      {"s":10,"t":0.4003,"i":-0.29},{"s":10,"t":0.402,"i":-0.13},{"s":10,"t":0.405,"i":-0.06},{"s":10,"t":0.41,"i":-0.03},{"s":10,"t":0.417,"i":-0.015},{"s":10,"t":0.425,"i":-0.01},{"s":10,"t":0.44,"i":-0.008},{"s":10,"t":0.455,"i":-0.006},{"s":10,"t":0.47,"i":-0.009},{"s":10,"t":0.485,"i":-0.005},{"s":10,"t":0.5,"i":-0.007},{"s":10,"t":0.515,"i":-0.004},{"s":10,"t":0.53,"i":-0.006},{"s":10,"t":0.545,"i":-0.003},{"s":10,"t":0.56,"i":-0.005},{"s":10,"t":0.575,"i":-0.002},{"s":10,"t":0.59,"i":-0.004},{"s":10,"t":0.5995,"i":-0.003},
      {"s":10,"t":0.6003,"i":0.04},{"s":10,"t":0.602,"i":0.012},{"s":10,"t":0.605,"i":0.004},{"s":10,"t":0.615,"i":0.003},{"s":10,"t":0.63,"i":-0.002},{"s":10,"t":0.645,"i":0.001},{"s":10,"t":0.66,"i":-0.003},{"s":10,"t":0.675,"i":0.004},{"s":10,"t":0.69,"i":-0.001},{"s":10,"t":0.7,"i":0.003}
    ]
  },
  "layer": [
    {
      "data": {"name": "traces"},
      "mark": {"type": "line", "color": "black", "strokeWidth": 1.2, "clip": true},
      "encoding": {
        "x": {
          "field": "t",
          "type": "quantitative",
          "title": "t [s]",
          "scale": {"domain": [0, 0.7], "nice": false, "zero": false},
          "axis": {"values": [0.1, 0.4, 0.6], "format": ".1f", "labelPadding": 14, "titlePadding": 14}
        },
        "y": {
          "field": "i",
          "type": "quantitative",
          "title": "I [nA]",
          "scale": {"domain": [-0.572, 2.795], "nice": false, "zero": false},
          "axis": {"values": [0, 1, 2], "format": "d", "labelPadding": 18, "titlePadding": 12}
        },
        "detail": {"field": "s", "type": "nominal"},
        "order": {"field": "t", "type": "quantitative"}
      }
    },
    {
      "data": {"values": [{"note": "25\u00a0°C\u00a0\u00a0Deactivation"}]},
      "mark": {"type": "text", "align": "right", "baseline": "alphabetic", "fontSize": 18.7, "font": "DejaVu Sans", "color": "black"},
      "encoding": {
        "x": {"datum": 0.6975},
        "y": {"datum": 2.768},
        "text": {"field": "note"}
      }
    },
    {
      "data": {"values": [{"note": "BBP Channelpedia ID 29648 rep 1"}]},
      "mark": {"type": "text", "align": "center", "baseline": "middle", "angle": 270, "fontSize": 13.5, "font": "DejaVu Sans", "color": "black"},
      "encoding": {
        "x": {"datum": 0.7115},
        "y": {"datum": 1.11},
        "text": {"field": "note"}
      }
    }
  ]
}
